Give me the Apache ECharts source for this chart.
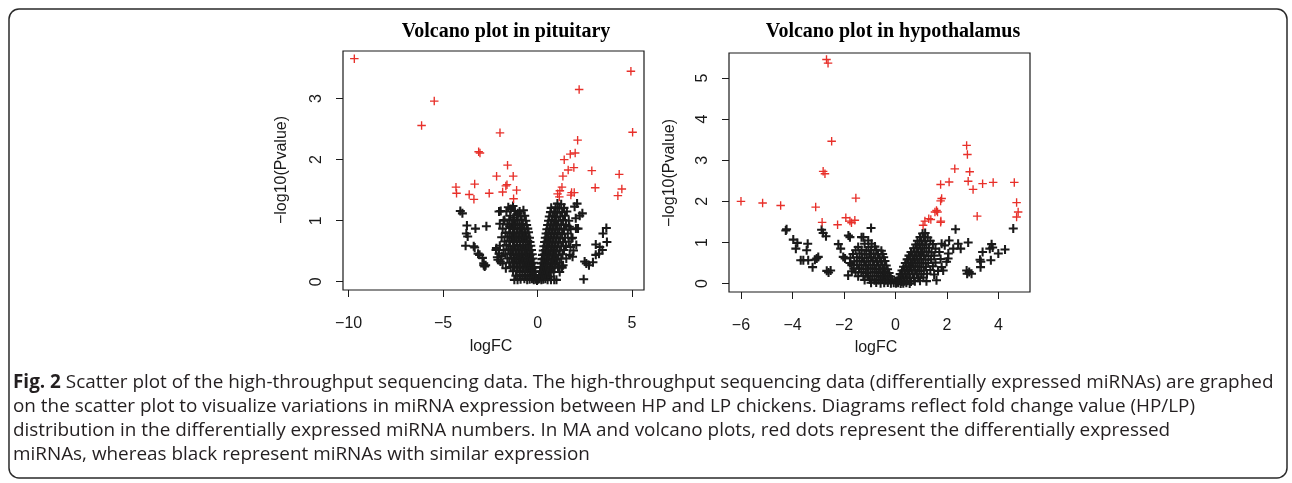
<!DOCTYPE html>
<html>
<head>
<meta charset="utf-8">
<title>Volcano plots</title>
<script src="https://cdn.jsdelivr.net/npm/echarts@6.0.0/dist/echarts.min.js"></script>
<style>
  html, body { margin: 0; padding: 0; background: #fff; }
  #main { width: 1292px; height: 483px; }
</style>
</head>
<body>
<div id="main"></div>
<script>
// tick values
const pitXTicks = [-10, -5, 0, 5];
const pitYTicks = [0, 1, 2, 3];
const hypXTicks = [-6, -4, -2, 0, 2, 4];
const hypYTicks = [0, 1, 2, 3, 4, 5];
const plotTitles = ['Volcano plot in pituitary', 'Volcano plot in hypothalamus'];
const xName = 'logFC';
const yName = '\u2212log10(Pvalue)';

// pituitary: significant (red) miRNAs, [logFC, -log10 p]
const pitRed = [
  [-9.70, 3.655], [-5.47, 2.96], [-6.14, 2.56], [-1.99, 2.44], [-3.12, 2.13], [-3.05, 2.11],
  [-1.59, 1.91], [-2.17, 1.73], [-1.29, 1.73], [-3.33, 1.60], [-1.62, 1.59], [-1.68, 1.57],
  [-4.32, 1.55], [-4.29, 1.45], [-3.62, 1.43], [-2.56, 1.45], [-3.37, 1.35], [-1.85, 1.47],
  [-1.11, 1.50], [-1.27, 1.36], [2.20, 3.15], [4.94, 3.45], [5.03, 2.45], [2.12, 2.32],
  [1.41, 2.00], [1.73, 2.09], [1.99, 2.11], [1.62, 1.83], [1.34, 1.73], [1.92, 1.87],
  [2.87, 1.82], [4.32, 1.76], [3.05, 1.54], [4.46, 1.52], [4.25, 1.41], [1.29, 1.55],
  [1.06, 1.44], [1.15, 1.39], [1.80, 1.46], [1.94, 1.46], [1.76, 1.42], [1.18, 1.49]
];

// pituitary: non-significant (black) miRNAs
const pitBlack = [
  // outer left scatter
  [-4.09, 1.16], [-3.98, 1.12], [-3.74, 0.92], [-3.29, 0.87], [-2.71, 0.91], [-3.77, 0.79],
  [-3.70, 0.74], [-3.81, 0.59], [-3.38, 0.58], [-3.33, 0.56], [-3.15, 0.46], [-3.07, 0.44],
  [-2.92, 0.39], [-2.85, 0.30], [-2.75, 0.27], [-2.85, 0.27], [-2.80, 0.25], [-2.18, 0.55],
  [-2.04, 0.46], [-2.10, 0.36], [-2.04, 1.15], [-1.95, 1.16], [-2.20, 0.52], [-1.85, 0.30],
  [-1.68, 0.22], [-1.90, 0.42], [-2.00, 0.95], [-1.80, 1.00], [-2.13, 0.40], [-1.97, 0.33],
  // left lobe
  [-1.55, 1.22], [-1.30, 1.24], [-1.42, 1.19],
  [-1.65, 1.15], [-1.20, 1.16], [-0.95, 1.15], [-0.75, 1.17], [-1.05, 1.12],
  [-1.45, 1.08], [-1.10, 1.09], [-0.90, 1.07], [-0.68, 1.08], [-1.28, 1.05],
  [-1.75, 1.01], [-1.50, 1.02], [-1.25, 1.00], [-1.05, 1.01], [-0.85, 1.02], [-0.62, 1.00],
  [-1.60, 0.94], [-1.35, 0.95], [-1.15, 0.93], [-0.95, 0.94], [-0.78, 0.95], [-0.58, 0.93], [-1.48, 0.91],
  [-1.85, 0.87], [-1.45, 0.88], [-1.25, 0.86], [-1.05, 0.87], [-0.88, 0.88], [-0.70, 0.86], [-0.52, 0.87],
  [-1.70, 0.80], [-1.50, 0.81], [-1.30, 0.79], [-1.12, 0.80], [-0.95, 0.81], [-0.80, 0.79], [-0.63, 0.80], [-0.48, 0.81],
  [-1.90, 0.73], [-1.60, 0.74], [-1.40, 0.72], [-1.20, 0.73], [-1.03, 0.74], [-0.87, 0.72], [-0.72, 0.73], [-0.57, 0.74], [-0.43, 0.72],
  [-1.75, 0.66], [-1.50, 0.67], [-1.30, 0.65], [-1.12, 0.66], [-0.95, 0.67], [-0.80, 0.65], [-0.65, 0.66], [-0.52, 0.67], [-0.40, 0.65],
  [-2.00, 0.59], [-1.65, 0.60], [-1.45, 0.58], [-1.25, 0.59], [-1.08, 0.60], [-0.92, 0.58], [-0.77, 0.59], [-0.62, 0.60], [-0.48, 0.58], [-0.36, 0.59],
  [-1.80, 0.52], [-1.55, 0.53], [-1.35, 0.51], [-1.17, 0.52], [-1.00, 0.53], [-0.85, 0.51], [-0.70, 0.52], [-0.56, 0.53], [-0.44, 0.51], [-0.32, 0.52],
  [-1.70, 0.45], [-1.45, 0.46], [-1.27, 0.44], [-1.10, 0.45], [-0.94, 0.46], [-0.79, 0.44], [-0.65, 0.45], [-0.52, 0.46], [-0.40, 0.44], [-0.28, 0.45],
  [-1.60, 0.38], [-1.38, 0.39], [-1.20, 0.37], [-1.03, 0.38], [-0.88, 0.39], [-0.73, 0.37], [-0.60, 0.38], [-0.47, 0.39], [-0.35, 0.37], [-0.25, 0.38],
  [-1.50, 0.31], [-1.30, 0.32], [-1.12, 0.30], [-0.96, 0.31], [-0.81, 0.32], [-0.67, 0.30], [-0.54, 0.31], [-0.42, 0.32], [-0.31, 0.30], [-0.21, 0.31],
  [-1.42, 0.24], [-1.22, 0.25], [-1.05, 0.23], [-0.90, 0.24], [-0.75, 0.25], [-0.61, 0.23], [-0.48, 0.24], [-0.37, 0.25], [-0.27, 0.23], [-0.17, 0.24],
  [-1.30, 0.17], [-1.10, 0.18], [-0.95, 0.16], [-0.80, 0.17], [-0.66, 0.18], [-0.53, 0.16], [-0.41, 0.17], [-0.30, 0.18], [-0.20, 0.16], [-0.12, 0.17],
  [-1.15, 0.10], [-0.95, 0.11], [-0.80, 0.09], [-0.66, 0.10], [-0.53, 0.11], [-0.41, 0.09], [-0.30, 0.10], [-0.20, 0.11], [-0.10, 0.09],
  [-0.90, 0.04], [-0.70, 0.05], [-0.55, 0.03], [-0.42, 0.04], [-0.30, 0.05], [-0.20, 0.03], [-0.10, 0.04], [-0.03, 0.02],
  [-1.23, 0.03], [-1.06, 0.03],
  // right lobe
  [1.05, 1.28], [1.25, 1.27],
  [0.72, 1.21], [0.95, 1.22], [1.15, 1.20], [1.40, 1.21],
  [0.68, 1.14], [0.88, 1.15], [1.05, 1.13], [1.30, 1.14], [1.55, 1.15],
  [0.62, 1.07], [0.80, 1.08], [0.98, 1.06], [1.20, 1.07], [1.45, 1.08],
  [0.58, 1.00], [0.75, 1.01], [0.92, 0.99], [1.10, 1.00], [1.35, 1.01], [1.65, 1.00],
  [0.53, 0.93], [0.70, 0.94], [0.86, 0.92], [1.03, 0.93], [1.25, 0.94], [1.50, 0.93],
  [0.49, 0.86], [0.64, 0.87], [0.80, 0.85], [0.96, 0.86], [1.15, 0.87], [1.40, 0.85], [1.75, 0.86],
  [0.45, 0.79], [0.59, 0.80], [0.74, 0.78], [0.90, 0.79], [1.07, 0.80], [1.30, 0.78], [1.60, 0.79],
  [0.41, 0.72], [0.55, 0.73], [0.69, 0.71], [0.84, 0.72], [1.00, 0.73], [1.20, 0.71], [1.45, 0.72], [1.85, 0.72],
  [0.37, 0.65], [0.50, 0.66], [0.64, 0.64], [0.78, 0.65], [0.94, 0.66], [1.12, 0.64], [1.35, 0.65], [1.65, 0.66],
  [0.33, 0.58], [0.46, 0.59], [0.59, 0.57], [0.73, 0.58], [0.88, 0.59], [1.05, 0.57], [1.25, 0.58], [1.50, 0.59],
  [0.30, 0.51], [0.42, 0.52], [0.55, 0.50], [0.68, 0.51], [0.82, 0.52], [0.98, 0.50], [1.17, 0.51], [1.40, 0.52], [1.90, 0.51],
  [0.26, 0.44], [0.38, 0.45], [0.50, 0.43], [0.63, 0.44], [0.77, 0.45], [0.92, 0.43], [1.10, 0.44], [1.32, 0.45],
  [0.23, 0.37], [0.34, 0.38], [0.46, 0.36], [0.58, 0.37], [0.72, 0.38], [0.87, 0.36], [1.03, 0.37], [1.25, 0.38],
  [0.20, 0.30], [0.30, 0.31], [0.42, 0.29], [0.54, 0.30], [0.67, 0.31], [0.81, 0.29], [0.97, 0.30], [1.15, 0.31],
  [0.16, 0.23], [0.26, 0.24], [0.37, 0.22], [0.49, 0.23], [0.62, 0.24], [0.76, 0.22], [0.90, 0.23], [1.08, 0.24], [1.30, 0.23],
  [0.13, 0.16], [0.22, 0.17], [0.33, 0.15], [0.44, 0.16], [0.56, 0.17], [0.70, 0.15], [0.85, 0.16],
  [0.08, 0.09], [0.17, 0.10], [0.27, 0.08], [0.38, 0.09], [0.50, 0.10], [0.63, 0.08],
  [0.03, 0.04], [0.10, 0.05], [0.20, 0.03], [0.30, 0.04], [0.41, 0.05],
  [0.53, 0.03], [0.71, 0.03], [0.88, 0.03], [1.00, 0.03],
  // outer right scatter
  [2.44, 0.04], [2.58, 0.30], [2.72, 0.27], [2.93, 0.32], [2.49, 0.33], [3.08, 0.61],
  [3.29, 0.57], [3.43, 0.52], [3.25, 0.46], [3.08, 0.44], [3.46, 0.79], [3.64, 0.88],
  [3.67, 0.65], [2.37, 1.12], [2.23, 1.08], [2.02, 1.04], [1.96, 1.23], [2.09, 1.28],
  [2.14, 0.87], [2.05, 0.60], [1.79, 0.71], [1.74, 0.57], [1.70, 0.44], [1.52, 0.38],
  [1.35, 0.27], [1.17, 0.16], [1.68, 0.90], [2.03, 0.87], [1.85, 0.41], [1.29, 0.25]
];

// hypothalamus: significant (red)
const hypRed = [
  [-2.68, 5.45], [-2.62, 5.36], [-2.48, 3.46], [-2.81, 2.73], [-2.74, 2.67], [-1.54, 2.08],
  [-6.00, 2.00], [-5.16, 1.96], [-4.46, 1.90], [-3.10, 1.86], [-2.85, 1.49], [-2.25, 1.43],
  [-1.93, 1.60], [-1.77, 1.52], [-1.58, 1.54], [-1.71, 1.48], [2.76, 3.36], [2.79, 3.14],
  [2.30, 2.79], [2.88, 2.72], [1.75, 2.41], [2.08, 2.47], [2.82, 2.49], [3.01, 2.29],
  [3.38, 2.43], [3.79, 2.46], [4.61, 2.46], [4.70, 1.97], [4.76, 1.74], [4.70, 1.62],
  [3.17, 1.64], [1.79, 2.07], [1.75, 2.01], [1.59, 1.78], [1.63, 1.74], [1.53, 1.74],
  [1.37, 1.56], [1.14, 1.52], [1.75, 1.49], [1.76, 1.52], [1.07, 1.42], [1.29, 1.58]
];

// hypothalamus: non-significant (black)
const hypBlack = [
  // outer left scatter
  [-4.23, 1.32], [-4.26, 1.29], [-3.97, 1.07], [-3.81, 0.99], [-3.87, 0.85], [-3.41, 0.97],
  [-3.45, 0.81], [-3.58, 0.57], [-3.68, 0.57], [-3.39, 0.57], [-3.22, 0.40], [-3.06, 0.61],
  [-3.00, 0.65], [-3.13, 0.58], [-2.87, 1.31], [-2.81, 1.23], [-2.70, 1.15], [-2.67, 0.31],
  [-2.52, 0.32], [-2.60, 0.27], [-2.22, 0.96], [-2.13, 0.85], [-2.03, 0.65], [-1.83, 1.17],
  [-1.77, 1.13], [-1.96, 0.61], [-1.77, 0.50], [-1.32, 1.13], [-0.95, 1.35], [-1.84, 0.20],
  [-1.70, 0.30],
  // left lobe
  [-1.25, 1.13], [-1.06, 1.05], [-1.20, 0.97], [-0.93, 0.97], [-1.45, 0.89], [-1.05, 0.89], [-0.80, 0.90],
  [-1.55, 0.81], [-1.32, 0.82], [-1.13, 0.80], [-0.95, 0.81], [-0.75, 0.82], [-0.55, 0.80],
  [-1.65, 0.72], [-1.40, 0.73], [-1.20, 0.71], [-1.02, 0.72], [-0.85, 0.73], [-0.68, 0.71], [-0.50, 0.72],
  [-1.75, 0.63], [-1.50, 0.64], [-1.30, 0.62], [-1.12, 0.63], [-0.95, 0.64], [-0.78, 0.62], [-0.62, 0.63], [-0.46, 0.64],
  [-1.60, 0.54], [-1.40, 0.55], [-1.22, 0.53], [-1.05, 0.54], [-0.88, 0.55], [-0.72, 0.53], [-0.56, 0.54], [-0.41, 0.55],
  [-1.70, 0.45], [-1.50, 0.46], [-1.32, 0.44], [-1.15, 0.45], [-0.98, 0.46], [-0.82, 0.44], [-0.66, 0.45], [-0.51, 0.46], [-0.36, 0.44],
  [-1.62, 0.36], [-1.42, 0.37], [-1.24, 0.35], [-1.07, 0.36], [-0.90, 0.37], [-0.75, 0.35], [-0.60, 0.36], [-0.45, 0.37], [-0.31, 0.35],
  [-1.55, 0.27], [-1.33, 0.28], [-1.15, 0.26], [-0.98, 0.27], [-0.82, 0.28], [-0.67, 0.26], [-0.52, 0.27], [-0.38, 0.28], [-0.25, 0.26],
  [-1.45, 0.18], [-1.25, 0.19], [-1.07, 0.17], [-0.90, 0.18], [-0.74, 0.19], [-0.59, 0.17], [-0.45, 0.18], [-0.32, 0.19], [-0.19, 0.17],
  [-1.20, 0.09], [-1.00, 0.10], [-0.82, 0.08], [-0.66, 0.09], [-0.52, 0.10], [-0.38, 0.08], [-0.26, 0.09], [-0.13, 0.10],
  [-0.95, 0.02], [-0.75, 0.03], [-0.58, 0.01], [-0.44, 0.02], [-0.30, 0.03], [-0.18, 0.01], [-0.07, 0.02],
  // right lobe
  [1.05, 1.22], [1.15, 1.23],
  [0.95, 1.13], [1.10, 1.14], [1.25, 1.12],
  [0.85, 1.04], [1.00, 1.05], [1.15, 1.03], [1.35, 1.04],
  [0.78, 0.95], [0.92, 0.96], [1.05, 0.94], [1.20, 0.95], [1.45, 0.96],
  [0.70, 0.86], [0.83, 0.87], [0.97, 0.85], [1.12, 0.86], [1.30, 0.87], [1.55, 0.85],
  [0.60, 0.77], [0.74, 0.78], [0.88, 0.76], [1.03, 0.77], [1.20, 0.78], [1.40, 0.76], [1.70, 0.77],
  [0.52, 0.68], [0.66, 0.69], [0.80, 0.67], [0.95, 0.68], [1.10, 0.69], [1.28, 0.67], [1.50, 0.68],
  [0.45, 0.59], [0.58, 0.60], [0.72, 0.58], [0.86, 0.59], [1.00, 0.60], [1.17, 0.58], [1.38, 0.59], [1.75, 0.60],
  [0.38, 0.50], [0.50, 0.51], [0.64, 0.49], [0.78, 0.50], [0.92, 0.51], [1.08, 0.49], [1.27, 0.50], [1.55, 0.51],
  [0.31, 0.41], [0.43, 0.42], [0.56, 0.40], [0.70, 0.41], [0.85, 0.42], [1.00, 0.40], [1.18, 0.41], [1.45, 0.42],
  [0.25, 0.32], [0.36, 0.33], [0.48, 0.31], [0.62, 0.32], [0.76, 0.33], [0.92, 0.31], [1.10, 0.32], [1.35, 0.33], [1.65, 0.31],
  [0.18, 0.23], [0.28, 0.24], [0.40, 0.22], [0.53, 0.23], [0.67, 0.24], [0.83, 0.22], [1.00, 0.23], [1.22, 0.24], [1.50, 0.22],
  [0.12, 0.14], [0.21, 0.15], [0.32, 0.13], [0.44, 0.14], [0.57, 0.15], [0.72, 0.13], [0.88, 0.14], [1.08, 0.15],
  [0.06, 0.06], [0.14, 0.07], [0.24, 0.05], [0.35, 0.06], [0.47, 0.07], [0.60, 0.05], [0.75, 0.06], [0.95, 0.07], [1.20, 0.06], [1.59, 0.08],
  [0.02, 0.01], [0.10, 0.02], [0.20, 0.00], [0.30, 0.01], [0.42, 0.02], [0.55, 0.00],
  // outer right scatter
  [2.33, 1.32], [2.82, 1.00], [2.08, 1.05], [2.43, 0.97], [2.53, 0.85], [2.24, 0.85],
  [2.05, 0.73], [1.98, 0.53], [1.79, 0.40], [1.85, 0.32], [4.57, 1.34], [4.25, 0.83],
  [3.99, 0.73], [3.73, 0.96], [3.77, 0.88], [3.66, 0.85], [3.70, 0.57], [3.38, 0.77],
  [3.28, 0.58], [3.31, 0.53], [3.30, 0.40], [2.76, 0.32], [2.86, 0.28], [2.95, 0.24],
  [2.78, 0.24], [1.79, 0.97], [1.91, 0.93], [2.04, 0.61]
];

const captionLines = [
  '{b|Fig. 2} Scatter plot of the high-throughput sequencing data. The high-throughput sequencing data (differentially expressed miRNAs) are graphed',
  'on the scatter plot to visualize variations in miRNA expression between HP and LP chickens. Diagrams reflect fold change value (HP/LP)',
  'distribution in the differentially expressed miRNA numbers. In MA and volcano plots, red dots represent the differentially expressed',
  'miRNAs, whereas black represent miRNAs with similar expression'
];

const blackMark = 'path://M0,3.85H10V6.15H0Z M3.85,0H6.15V10H3.85Z';
const redMark = 'path://M0,4.2H10V5.8H0Z M4.2,0H5.8V10H4.2Z';
const ink = '#1a1a1a';
const redInk = '#e8302a';
const tickFont = 'Liberation Sans';

function minusFmt(v) {
  return String(v).replace('-', '\u2212');
}

function makeX(grid, min, max, ticks) {
  return {
    gridIndex: grid, type: 'value', min: min, max: max,
    axisLine: { show: false, onZero: false },
    splitLine: { show: false },
    axisTick: { show: true, customValues: ticks, length: 7, lineStyle: { color: ink, width: 1 } },
    axisLabel: { customValues: ticks, formatter: minusFmt, margin: 26, fontSize: 16, fontFamily: tickFont, color: ink }
  };
}

function makeY(grid, min, max, ticks) {
  return {
    gridIndex: grid, type: 'value', min: min, max: max,
    axisLine: { show: false, onZero: false },
    splitLine: { show: false },
    axisTick: { show: true, customValues: ticks, length: 7, lineStyle: { color: ink, width: 1 } },
    axisLabel: { customValues: ticks, rotate: 90, margin: 18, fontSize: 16, fontFamily: tickFont, color: ink }
  };
}

function makeSeries(data, mark, size, color, idx) {
  return {
    type: 'scatter', xAxisIndex: idx, yAxisIndex: idx, data: data,
    symbol: mark, symbolSize: size, silent: true, animation: false,
    itemStyle: { color: color, opacity: 1 }
  };
}

function label(text, x, y, rot) {
  return {
    type: 'text', x: x, y: y, rotation: rot || 0, silent: true,
    style: { text: text, fontSize: 16, fontFamily: tickFont, fill: ink, align: 'center', verticalAlign: 'middle' }
  };
}

function title(text, x) {
  return {
    type: 'text', x: x, y: 32, silent: true,
    style: { text: text, fontSize: 20, fontWeight: 'bold', fontFamily: 'Liberation Serif', fill: '#000', align: 'center', verticalAlign: 'middle' }
  };
}

const chart = echarts.init(document.getElementById('main'), null, { renderer: 'canvas' });

const captionGraphics = captionLines.map(function (line, i) {
  return {
    type: 'text', x: 13, y: 383 + i * 24, silent: true,
    style: {
      text: line, fontSize: 18.9, fontFamily: 'Open Sans', fill: '#231f20',
      align: 'left', verticalAlign: 'middle',
      rich: { b: { fontSize: 18.9, fontFamily: 'Open Sans', fontWeight: 'bold', fill: '#231f20' } }
    }
  };
});

const option = {
  backgroundColor: '#fff',
  animation: false,
  grid: [
    { left: 343, top: 51, width: 301, height: 239, show: true, borderColor: ink, borderWidth: 1.2, containLabel: false },
    { left: 729, top: 53, width: 301, height: 239, show: true, borderColor: ink, borderWidth: 1.2, containLabel: false }
  ],
  xAxis: [
    makeX(0, -10.30, 5.633, pitXTicks),
    makeX(1, -6.465, 5.22, hypXTicks)
  ],
  yAxis: [
    makeY(0, -0.136, 3.781, pitYTicks),
    makeY(1, -0.204, 5.607, hypYTicks)
  ],
  series: [
    makeSeries(pitBlack, blackMark, 9, ink, 0),
    makeSeries(pitRed, redMark, 8.5, redInk, 0),
    makeSeries(hypBlack, blackMark, 9, ink, 1),
    makeSeries(hypRed, redMark, 8.5, redInk, 1)
  ],
  graphic: [
    {
      type: 'rect', silent: true,
      shape: { x: 9, y: 9, width: 1278, height: 469, r: 10 },
      style: { fill: 'none', stroke: '#2a2a2a', lineWidth: 1.5 }
    },
    title(plotTitles[0], 506),
    title(plotTitles[1], 893),
    label(xName, 491, 347),
    label(xName, 876, 348),
    label(yName, 282, 170, Math.PI / 2),
    label(yName, 670, 173, Math.PI / 2)
  ].concat(captionGraphics)
};

chart.setOption(option);
</script>
</body>
</html>
